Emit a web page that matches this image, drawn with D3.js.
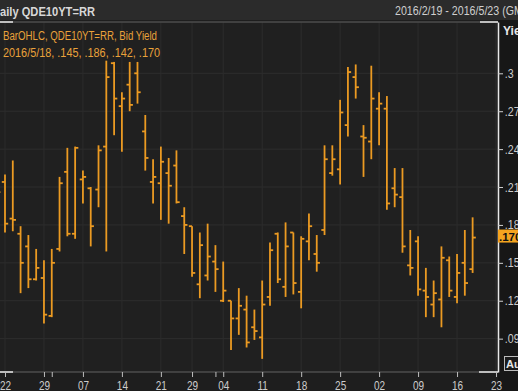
<!DOCTYPE html>
<html>
<head>
<meta charset="utf-8">
<script src="https://cdn.jsdelivr.net/npm/d3@7"></script>
<style>
html, body { margin: 0; padding: 0; background: #1c1c1c; overflow: hidden; }
</style>
</head>
<body>
<script>
// Daily bars, QDE10YT=RR bid yield
const dates = [
    "2016-02-19",
    "2016-02-22", "2016-02-23", "2016-02-24", "2016-02-25", "2016-02-26",
    "2016-02-29", "2016-03-01", "2016-03-02", "2016-03-03", "2016-03-04",
    "2016-03-07", "2016-03-08", "2016-03-09", "2016-03-10", "2016-03-11",
    "2016-03-14", "2016-03-15", "2016-03-16", "2016-03-17", "2016-03-18",
    "2016-03-21", "2016-03-22", "2016-03-23", "2016-03-24",
    "2016-03-29", "2016-03-30", "2016-03-31", "2016-04-01",
    "2016-04-04", "2016-04-05", "2016-04-06", "2016-04-07", "2016-04-08",
    "2016-04-11", "2016-04-12", "2016-04-13", "2016-04-14", "2016-04-15",
    "2016-04-18", "2016-04-19", "2016-04-20", "2016-04-21", "2016-04-22",
    "2016-04-25", "2016-04-26", "2016-04-27", "2016-04-28", "2016-04-29",
    "2016-05-02", "2016-05-03", "2016-05-04", "2016-05-05", "2016-05-06",
    "2016-05-09", "2016-05-10", "2016-05-11", "2016-05-12", "2016-05-13",
    "2016-05-16", "2016-05-17", "2016-05-18"
];
const open = [
    .200,
    .214, .185, .173, .163, .137,
    .138, .108, .161, .222, .173,
    .216, .209, .208, .242, .308,
    .274, .291, .300, .254, .214,
    .213, .221, .227, .187,
    .179, .133, .140, .151,
    .120, .120, .106, .113, .099,
    .091, .123, .173, .131, .174,
    .127, .167, .157, .176, .221,
    .224, .259, .297, .250, .246,
    .272, .272, .209, .202, .148,
    .167, .128, .117, .121, .152,
    .123, .150, .145
];
const high = [
    .215,
    .220, .231, .179, .172, .161,
    .152, .161, .218, .241, .242,
    .223, .210, .243, .310, .309,
    .285, .309, .309, .267, .232,
    .242, .233, .239, .194,
    .179, .174, .181, .164,
    .151, .120, .130, .124, .113,
    .136, .166, .174, .182, .174,
    .171, .189, .172, .243, .243,
    .279, .305, .307, .259, .306,
    .285, .282, .225, .225, .176,
    .171, .146, .136, .163, .155,
    .157, .176, .186
];
const low = [
    .195,
    .174, .175, .126, .130, .136,
    .102, .107, .159, .171, .169,
    .197, .163, .194, .159, .251,
    .238, .270, .276, .223, .197,
    .184, .181, .197, .157,
    .139, .122, .136, .127,
    .119, .081, .093, .083, .089,
    .074, .116, .134, .123, .125,
    .114, .152, .143, .172, .219,
    .212, .250, .280, .218, .232,
    .243, .192, .194, .158, .140,
    .124, .107, .107, .099, .123,
    .118, .124, .142
];
const close = [
    .206,
    .181, .184, .150, .137, .146,
    .109, .150, .213, .173, .241,
    .218, .179, .239, .297, .280,
    .280, .275, .285, .233, .218,
    .230, .211, .198, .180,
    .142, .164, .155, .145,
    .128, .106, .116, .087, .096,
    .117, .160, .137, .163, .134,
    .169, .179, .150, .232, .232,
    .269, .301, .289, .249, .280,
    .276, .197, .204, .163, .146,
    .129, .123, .126, .154, .128,
    .142, .134, .170
];
// days on the axis with no bar yet
const emptyDates = ["2016-05-19", "2016-05-20", "2016-05-23"];

const tickDates = ["2016-02-22", "2016-02-29", "2016-03-07", "2016-03-14", "2016-03-21",
    "2016-03-29", "2016-04-04", "2016-04-11", "2016-04-18", "2016-04-25",
    "2016-05-02", "2016-05-09", "2016-05-16", "2016-05-23"];
const tickLabels = ["22", "29", "07", "14", "21", "29", "04", "11", "18", "25", "02", "09", "16", "23"];
const monthTicks = ["2016-03-01", "2016-04-01"];

const yTicks = [0.09, 0.12, 0.15, 0.18, 0.21, 0.24, 0.27, 0.30];
const yTickLabels = [".09", ".12", ".15", ".18", ".21", ".24", ".27", ".3"];

const title = "Daily QDE10YT=RR";
const dateRange = "2016/2/19 - 2016/5/23 (GMT)";
const legendLine1 = "BarOHLC, QDE10YT=RR, Bid Yield";
const legendLine2 = "2016/5/18, .145, .186, .142, .170";
const lastLabel = ".170";

const W = 518, H = 391;
const plot = { left: 0, right: 498, top: 22, bottom: 372 };
const font = "'Liberation Sans', Arial, sans-serif";
const barColor = "#eb9a22";
const textColor = "#cdcdcd";

const data = dates.map((d, i) => ({ date: d, o: open[i], h: high[i], l: low[i], c: close[i] }));

const svg = d3.select("body").append("svg")
    .attr("width", W)
    .attr("height", H)
    .style("display", "block");

// Backgrounds
svg.append("rect").attr("width", W).attr("height", H).attr("fill", "#1e1e1e");
svg.append("rect").attr("width", W).attr("height", 20).attr("fill", "#2b2b2b");
svg.append("rect").attr("x", plot.right).attr("y", 20).attr("width", W - plot.right).attr("height", H - 20).attr("fill", "#171717");
svg.append("rect")
    .attr("x", plot.left).attr("y", plot.top)
    .attr("width", plot.right - plot.left).attr("height", plot.bottom - plot.top)
    .attr("fill", "#202020");

// Scales
const x = d3.scalePoint()
    .domain(dates.concat(emptyDates))
    .range([-2.8, 496]);

const y = d3.scaleLinear()
    .domain([0.0636, 0.3406])
    .range([plot.bottom, plot.top]);

// Gridlines
svg.append("g")
    .selectAll("line.hgrid")
    .data(yTicks)
    .enter()
    .append("line")
    .attr("x1", plot.left).attr("x2", plot.right)
    .attr("y1", d => y(d)).attr("y2", d => y(d))
    .attr("stroke", "#2e2e2e")
    .attr("stroke-width", 1);

svg.append("g")
    .selectAll("line.vgrid")
    .data(tickDates)
    .enter()
    .append("line")
    .attr("x1", d => x(d)).attr("x2", d => x(d))
    .attr("y1", plot.top).attr("y2", plot.bottom)
    .attr("stroke", "#2c2c2c")
    .attr("stroke-width", 1);

// Clip for the bars
svg.append("defs").append("clipPath").attr("id", "plotClip")
    .append("rect")
    .attr("x", plot.left).attr("y", plot.top)
    .attr("width", plot.right - plot.left).attr("height", plot.bottom - plot.top);

// OHLC bars
const bars = svg.append("g").attr("clip-path", "url(#plotClip)")
    .selectAll("g.bar")
    .data(data)
    .enter()
    .append("g")
    .attr("class", "bar")
    .attr("stroke", barColor)
    .attr("stroke-width", 1.8);

bars.append("line")
    .attr("x1", d => x(d.date)).attr("x2", d => x(d.date))
    .attr("y1", d => y(d.h)).attr("y2", d => y(d.l));
bars.append("line")
    .attr("x1", d => x(d.date) - 3.2).attr("x2", d => x(d.date))
    .attr("y1", d => y(d.o)).attr("y2", d => y(d.o));
bars.append("line")
    .attr("x1", d => x(d.date)).attr("x2", d => x(d.date) + 3.2)
    .attr("y1", d => y(d.c)).attr("y2", d => y(d.c));

// Frame: grey with white corners
function frameLine(x1, y1, x2, y2, color) {
    svg.append("line")
        .attr("x1", x1).attr("y1", y1).attr("x2", x2).attr("y2", y2)
        .attr("stroke", color).attr("stroke-width", 1.5);
}
frameLine(plot.left, plot.top, plot.right, plot.top, "#4c4c4c");
frameLine(plot.left, plot.bottom, plot.right, plot.bottom, "#4c4c4c");
frameLine(plot.left, plot.top, 13, plot.top, "#e8e8e8");
frameLine(480, plot.top, plot.right, plot.top, "#e8e8e8");
frameLine(plot.left, plot.bottom, 13, plot.bottom, "#e8e8e8");
frameLine(479, plot.bottom, plot.right, plot.bottom, "#e8e8e8");

// X axis
const xAxis = svg.append("g")
    .attr("transform", `translate(0,${plot.bottom})`)
    .call(d3.axisBottom(x)
        .tickValues(tickDates)
        .tickFormat((d, i) => tickLabels[i])
        .tickSize(5)
        .tickPadding(4));
xAxis.select(".domain").remove();
xAxis.selectAll(".tick line").attr("stroke", "#bdbdbd");
xAxis.selectAll(".tick text")
    .attr("fill", textColor)
    .attr("font-family", font)
    .style("font-size", "12.5px")
    .attr("transform", "scale(0.8,1)");

const monthAxis = svg.append("g")
    .attr("transform", `translate(0,${plot.bottom})`)
    .call(d3.axisBottom(x).tickValues(monthTicks).tickFormat("").tickSize(5));
monthAxis.select(".domain").remove();
monthAxis.selectAll(".tick line").attr("stroke", "#bdbdbd");

// Y axis on the right
const yAxis = svg.append("g")
    .attr("transform", `translate(${plot.right},0)`)
    .call(d3.axisRight(y)
        .tickValues(yTicks)
        .tickFormat((d, i) => yTickLabels[i])
        .tickSize(5)
        .tickSizeOuter(0));
yAxis.select(".domain").attr("stroke", "#e8e8e8").attr("stroke-width", 1.5);
yAxis.selectAll(".tick line").attr("stroke", "#d0d0d0");
yAxis.selectAll(".tick text")
    .attr("fill", textColor)
    .attr("font-family", font)
    .style("font-size", "12.5px")
    .attr("x", 8)
    .attr("transform", "scale(0.85,1)");

// Last value tag
const lastY = y(close[close.length - 1]);
svg.append("rect")
    .attr("x", plot.right).attr("y", lastY - 8)
    .attr("width", W - plot.right).attr("height", 13)
    .attr("fill", "#f5a41f");
svg.append("text")
    .attr("x", plot.right + 1).attr("y", lastY + 3)
    .attr("font-family", font)
    .attr("font-weight", "bold")
    .style("font-size", "11.5px")
    .attr("fill", "#111")
    .text(lastLabel);

// Axis title and button at right
svg.append("text")
    .attr("x", 503).attr("y", 35)
    .attr("font-family", font)
    .attr("font-weight", "bold")
    .style("font-size", "12px")
    .attr("fill", "#e6e6e6")
    .text("Yield");
svg.append("rect")
    .attr("x", 504.5).attr("y", 356.5)
    .attr("width", 20).attr("height", 14)
    .attr("fill", "#1a1a1a")
    .attr("stroke", "#bbbbbb");
svg.append("text")
    .attr("x", 506).attr("y", 368)
    .attr("font-family", font)
    .attr("font-weight", "bold")
    .style("font-size", "11px")
    .attr("fill", "#e6e6e6")
    .text("Auto");

// Header
svg.append("text")
    .attr("x", -8).attr("y", 16)
    .attr("font-family", font)
    .attr("font-weight", "bold")
    .style("font-size", "12.5px")
    .attr("fill", "#d8d8d8")
    .attr("textLength", 103)
    .attr("lengthAdjust", "spacingAndGlyphs")
    .text(title);
svg.append("text")
    .attr("x", 395).attr("y", 15)
    .attr("font-family", font)
    .style("font-size", "13px")
    .attr("fill", "#cfcfcf")
    .attr("transform", "translate(395,0) scale(0.82,1) translate(-395,0)")
    .text(dateRange);

// Legend
svg.append("text")
    .attr("x", 3).attr("y", 40)
    .attr("font-family", font)
    .style("font-size", "12px")
    .attr("fill", "#e9a23b")
    .attr("textLength", 154)
    .attr("lengthAdjust", "spacingAndGlyphs")
    .text(legendLine1);
svg.append("text")
    .attr("x", 3).attr("y", 57)
    .attr("font-family", font)
    .style("font-size", "12px")
    .attr("fill", "#e9a23b")
    .attr("textLength", 157)
    .attr("lengthAdjust", "spacingAndGlyphs")
    .text(legendLine2);
</script>
</body>
</html>
